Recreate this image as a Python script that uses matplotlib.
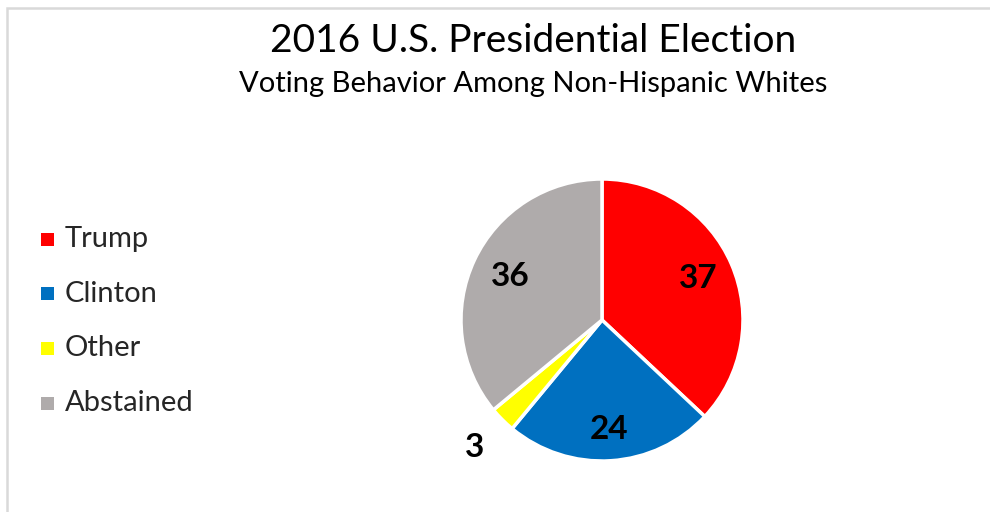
import matplotlib
matplotlib.use("Agg")
import matplotlib.pyplot as plt
from matplotlib.patches import Rectangle
import numpy as np

categories = ["Trump", "Clinton", "Other", "Abstained"]
values = [37, 24, 3, 36]
colors = ["#FF0000", "#0070C0", "#FFFF00", "#AFABAB"]
# where each value label sits, as a fraction of the radius
label_radius = [0.74, 0.78, 1.28, 0.72]

plt.rcParams["font.family"] = ["Lato", "DejaVu Sans"]

W, H = 990, 512
fig = plt.figure(figsize=(W / 100, H / 100), dpi=100)

# light chart border (top and left edges visible)
fig.add_artist(Rectangle((7 / W, -0.1), 1.1, (H - 8) / H + 0.1,
                         transform=fig.transFigure, fill=False,
                         edgecolor="#D9D9D9", linewidth=1.8))

fig.text(533 / W, 1 - 41 / H, "2016 U.S. Presidential Election",
         ha="center", va="center", fontsize=28, color="#000000")
fig.text(533 / W, 1 - 84 / H, "Voting Behavior Among Non-Hispanic Whites",
         ha="center", va="center", fontsize=21, color="#000000")

cx, cy, r = 602, 320, 141
ax = fig.add_axes([(cx - r) / W, (H - cy - r) / H, 2 * r / W, 2 * r / H])
wedges, _ = ax.pie(values, colors=colors, startangle=90, counterclock=False,
                   wedgeprops=dict(edgecolor="white", linewidth=2.5))
ax.set_xlim(-1, 1)
ax.set_ylim(-1, 1)
ax.set_aspect("equal")
ax.axis("off")

for w, v, rf in zip(wedges, values, label_radius):
    ang = np.deg2rad((w.theta1 + w.theta2) / 2)
    ax.text(rf * np.cos(ang), rf * np.sin(ang), str(v), ha="center",
            va="center", fontsize=24, fontweight="bold", color="#000000")

# legend drawn by hand to match the spacing
for i, (name, c) in enumerate(zip(categories, colors)):
    y = 1 - (239 + i * 54.7) / H
    fig.add_artist(Rectangle((41 / W, y - 6.5 / H), 13 / W, 13 / H,
                             transform=fig.transFigure, facecolor=c,
                             edgecolor="none"))
    fig.text(65 / W, y, name, ha="left", va="center", fontsize=21,
             color="#262626")

fig.savefig("out.png", dpi=100)
